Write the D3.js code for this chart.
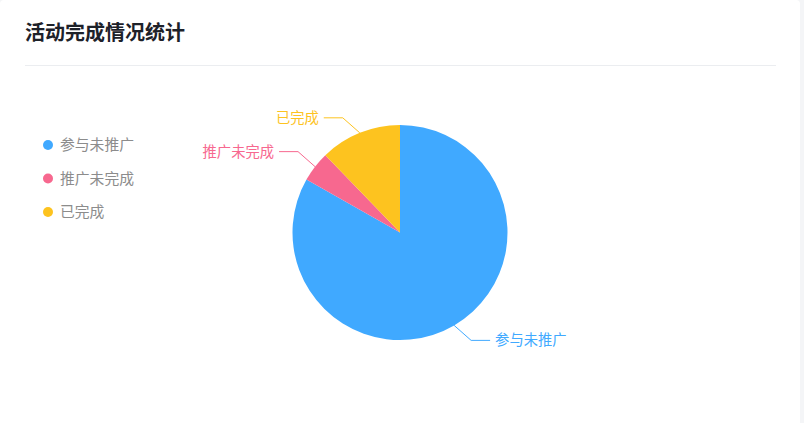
<!DOCTYPE html>
<html>
<head>
    <meta charset="utf-8">
    <title>活动完成情况统计</title>
    <script src="https://d3js.org/d3.v7.min.js"></script>
    <style>
        html, body {
            margin: 0;
            padding: 0;
            background: #f4f5f7;
        }
        #card {
            width: 800px;
            height: 430px;
            background: #fff;
            border-radius: 4px;
        }
        svg {
            display: block;
            font-family: "Noto Sans CJK SC", "Noto Sans", sans-serif;
        }
    </style>
</head>
<body>
    <div id="card"><svg width="800" height="430"></svg></div>

    <script>
        // Chart data
        const categories = ["参与未推广", "推广未完成", "已完成"];
        const counts = [218, 12, 32];
        const colors = ["#40a9ff", "#f7688f", "#fdc31f"];

        const svg = d3.select("svg");

        // Title and divider
        svg.append("text")
            .attr("x", 25)
            .attr("y", 40)
            .attr("font-size", 20)
            .attr("font-weight", "bold")
            .attr("fill", "#1d2129")
            .text("活动完成情况统计");

        svg.append("line")
            .attr("x1", 25).attr("x2", 776)
            .attr("y1", 65.5).attr("y2", 65.5)
            .attr("stroke", "#ebedf0");

        // Legend
        const legendY = d3.scalePoint()
            .domain(categories)
            .range([145, 212]);

        const legend = svg.append("g")
            .selectAll("g")
            .data(categories)
            .join("g")
            .attr("transform", d => `translate(48,${legendY(d)})`);

        legend.append("circle")
            .attr("r", 5)
            .attr("fill", (d, i) => colors[i]);

        legend.append("text")
            .attr("x", 12)
            .attr("dy", "0.35em")
            .attr("font-size", 14.8)
            .attr("fill", "#8c8c8c")
            .text(d => d);

        // Pie
        const cx = 400, cy = 232.5, radius = 107.5;
        const pieG = svg.append("g")
            .attr("transform", `translate(${cx},${cy})`);

        const pie = d3.pie().sort(null).value(d => d);
        const arcs = pie(counts);

        const arc = d3.arc().innerRadius(0).outerRadius(radius);
        const edgeArc = d3.arc().innerRadius(radius).outerRadius(radius);

        pieG.selectAll("path.slice")
            .data(arcs)
            .join("path")
            .attr("class", "slice")
            .attr("d", arc)
            .attr("fill", (d, i) => colors[i]);

        // Leader lines: diagonal out of the slice, then horizontal
        const midAngle = d => (d.startAngle + d.endAngle) / 2;
        const sideX = d => Math.sin(midAngle(d)) >= 0 ? 1 : -1;
        const sideY = d => -Math.cos(midAngle(d)) >= 0 ? 1 : -1;
        const elbow = d => {
            const p = edgeArc.centroid(d);
            return [p[0] + sideX(d) * 17, p[1] + sideY(d) * 15];
        };

        pieG.selectAll("polyline")
            .data(arcs)
            .join("polyline")
            .attr("fill", "none")
            .attr("stroke", (d, i) => colors[i])
            .attr("stroke-width", 1)
            .attr("points", d => {
                const p0 = edgeArc.centroid(d);
                const p1 = elbow(d);
                const p2 = [p1[0] + sideX(d) * 19, p1[1]];
                return [p0, p1, p2];
            });

        pieG.selectAll("text.label")
            .data(arcs)
            .join("text")
            .attr("class", "label")
            .attr("x", d => elbow(d)[0] + sideX(d) * 24)
            .attr("y", d => elbow(d)[1])
            .attr("dy", "0.35em")
            .attr("text-anchor", d => sideX(d) > 0 ? "start" : "end")
            .attr("font-size", 14.3)
            .attr("fill", (d, i) => colors[i])
            .text((d, i) => categories[i]);
    </script>
</body>
</html>
